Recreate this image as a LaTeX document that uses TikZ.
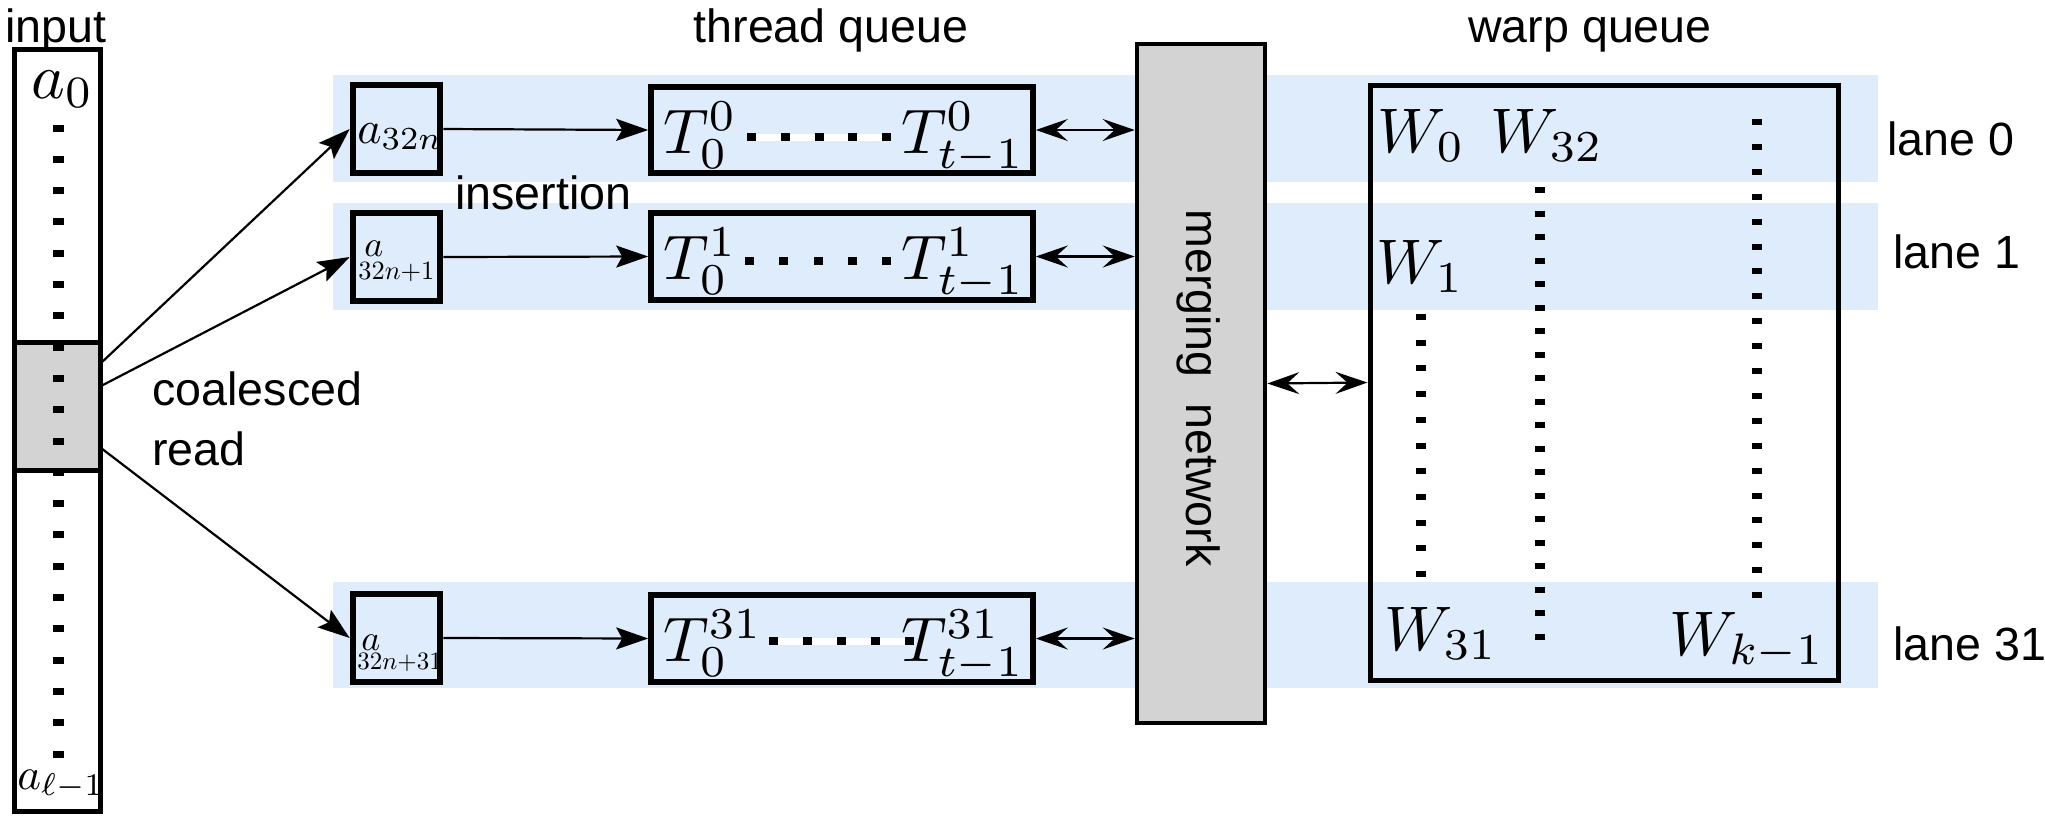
\documentclass[tikz,border=0pt]{standalone}
\usepackage{graphicx}
\usepackage{fontspec}
\newfontfamily\labfont{Liberation Sans}
\usetikzlibrary{arrows.meta,fit,calc}
\definecolor{band}{RGB}{223,236,252}
\definecolor{mgray}{RGB}{211,211,211}
\newcommand\mbig[2]{\scalebox{#1}{$#2$}}
\begin{document}
\begin{tikzpicture}[x=0.5pt,y=-0.5pt,
  lab/.style={font=\labfont\fontsize{23.3}{27}\selectfont, inner sep=0pt},
  mth/.style={inner sep=0pt},
  bandbox/.style={fill=band, draw=none, inner sep=0pt},
  sbox/.style={draw, line width=3.3pt, inner sep=0pt},
  tbox/.style={draw, line width=2.8pt, inner sep=0pt},
  arr/.style={-{Stealth[length=16pt,width=11pt,inset=3pt]}, line width=1.1pt},
  darr/.style={{Stealth[length=16pt,width=11pt,inset=6pt]}-{Stealth[length=16pt,width=11pt,inset=6pt]}, line width=1.1pt}]
\useasboundingbox (0,0) rectangle (2045,815);

% lane bands
\node[bandbox, fit={(333,75)(1878,182)}] (band0) {};
\node[bandbox, fit={(333,203)(1878,310)}] (band1) {};
\node[bandbox, fit={(333,582)(1878,688)}] (band31) {};

% input column
\node[fill=white, inner sep=0pt, fit={(15,50)(100,811)}] (inp) {};
\node[fill=mgray, inner sep=0pt, fit={(15,343)(100,470)}] (gblk) {};
\foreach \i in {0,...,20} \fill (53,{128+31.3*\i-3.5}) rectangle ++(11,7);
\draw[line width=2.3pt] (inp.north west) rectangle (inp.south east);
\draw[line width=2.3pt] (gblk.north west) rectangle (gblk.south east);
\node[mth, anchor=base west] (a0) at (31,98) {\mbig{3.2}{a_0}};
\node[mth, anchor=base west] (al) at (17,789) {\mbig{2.25}{a_{\ell-1}}};

% titles
\node[lab, anchor=base] (tin) at (56,42) {input};
\node[lab, anchor=base] (ttq) at (831,42) {thread queue};
\node[lab, anchor=base] (twq) at (1590,42) {warp queue};
\node[lab, anchor=base west] (tins) at (455,209) {insertion};
\node[lab, anchor=base west] (tco) at (152,405) {coalesced};
\node[lab, anchor=base west] (tre) at (152,465) {read};
\node[lab, anchor=base west] (l0) at (1887,155) {lane 0};
\node[lab, anchor=base west] (l1) at (1893,268) {lane 1};
\node[lab, anchor=base west] (l31) at (1893,660) {lane 31};

% small boxes
\node[sbox, fit={(353,85)(440,173)}] (sb0) {};
\node[sbox, fit={(353,213)(440,301)}] (sb1) {};
\node[sbox, fit={(353,594)(440,682)}] (sb31) {};
\node[mth, anchor=base west] (sa0) at (357,143) {\mbig{2.3}{a_{32n}}};
\node[mth, anchor=base west] (sa1) at (364,256) {\mbig{1.8}{a}};
\node[mth, anchor=base west] (ss1) at (358,279) {\mbig{1.32}{32n{+}1}};
\node[mth, anchor=base west] (sa31) at (361,650) {\mbig{1.8}{a}};
\node[mth, anchor=base west] (ss31) at (357,669) {\mbig{1.25}{32n{+}31}};

% thread queues
\node[tbox, fit={(651,87)(1033,173)}] (tq0) {};
\node[tbox, fit={(651,213)(1033,300)}] (tq1) {};
\node[tbox, fit={(651,595)(1033,682)}] (tq31) {};
\node[mth, anchor=base west] (t00) at (663,153) {\mbig{3.15}{T_0^0}};
\node[mth, anchor=base east] (t0e) at (1025,153) {\mbig{3.15}{T_{t-1}^0}};
\node[mth, anchor=base west] (t10) at (663,279) {\mbig{3.15}{T_0^1}};
\node[mth, anchor=base east] (t1e) at (1025,279) {\mbig{3.15}{T_{t-1}^1}};
\node[mth, anchor=base west] (t310) at (663,661) {\mbig{3.15}{T_0^{31}}};
\node[mth, anchor=base east] (t31e) at (1025,661) {\mbig{3.15}{T_{t-1}^{31}}};
\fill[white] (747,133.5) rectangle (890,140.5);
\fill[white] (769,637.5) rectangle (911,644.5);
\foreach \i in {0,...,4} {
  \fill ({747+33.75*\i},{137-4}) rectangle ++(9,8);
  \fill ({745+34.25*\i},{261-4}) rectangle ++(9,8);
  \fill ({769+34*\i},{641-4}) rectangle ++(9,8);
}

% merging network
\node[draw, fill=mgray, line width=2.3pt, inner sep=0pt, fit={(1137,44)(1265,723)}] (merge) {};
\node[lab, rotate=-90] (mtxt) at (1199,388) {merging~~network};

% warp queue
\node[draw, line width=2.5pt, inner sep=0pt, fit={(1370,85)(1838,680)}] (warp) {};
\node[mth, anchor=base west] (w0) at (1377,152) {\mbig{3.15}{W_0}};
\node[mth, anchor=base west] (w32) at (1490,152) {\mbig{3.15}{W_{32}}};
\node[mth, anchor=base west] (w1) at (1376,283) {\mbig{3.15}{W_1}};
\node[mth, anchor=base west] (w31) at (1384,650) {\mbig{3.15}{W_{31}}};
\node[mth, anchor=base east] (wk) at (1825,655) {\mbig{3.15}{W_{k-1}}};
\foreach \i in {0,...,10} \fill (1416,{317+25.7*\i-3}) rectangle ++(10,6);
\foreach \i in {0,...,19} \fill (1535,{190+23.5*\i-3}) rectangle ++(10,6);
\foreach \i in {0,...,19} \fill (1752,{122+24.9*\i-3}) rectangle ++(10,6);

% connectors
\coordinate (c1) at (101,363);
\coordinate (c2) at (101,386);
\coordinate (c3) at (101,448);
\draw[arr] (c1) -- (sb0.west);
\draw[arr] (c2) -- (sb1.west);
\draw[arr] (c3) -- (sb31.west);
\draw[arr] (sb0.east) -- (tq0.west);
\draw[arr] (sb1.east) -- (tq1.west);
\draw[arr] (sb31.east) -- (tq31.west);
\draw[darr] (tq0.east) -- (tq0.east -| merge.west);
\draw[darr] (tq1.east) -- (tq1.east -| merge.west);
\draw[darr] (tq31.east) -- (tq31.east -| merge.west);
\draw[darr] (merge.east) -- (warp.west);
\end{tikzpicture}
\end{document}
